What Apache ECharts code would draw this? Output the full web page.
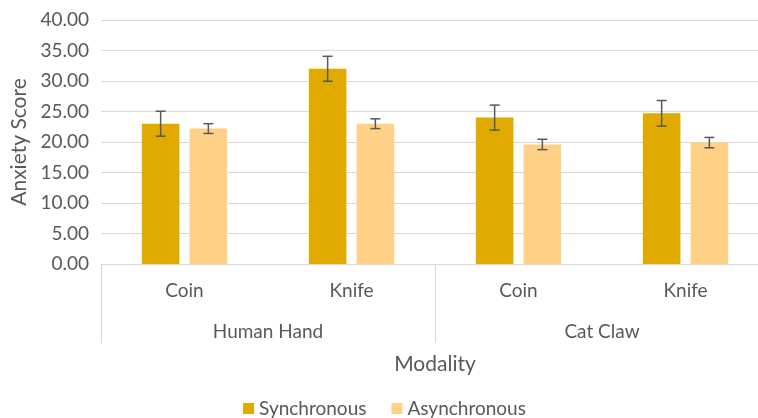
<!DOCTYPE html>
<html>
<head>
<meta charset="utf-8">
<script src="https://cdn.jsdelivr.net/npm/echarts@6/dist/echarts.min.js"></script>
<style>
  html, body { margin: 0; padding: 0; background: #fff; overflow: hidden; }
  /* the original plot runs past the right edge of the picture */
  #main { width: 769px; height: 418px; }
</style>
</head>
<body>
<div id="main"></div>
<script>
// data
var modalities = ['Coin', 'Knife', 'Coin', 'Knife'];
var groups = ['Human Hand', 'Cat Claw'];
var seriesNames = ['Synchronous', 'Asynchronous'];
var syncValues = [23.0, 32.0, 24.0, 24.7];
var syncErr = [2.05, 2.05, 2.05, 2.1];
var asyncValues = [22.2, 23.0, 19.6, 19.9];
var asyncErr = [0.8, 0.8, 0.85, 0.85];
var yTicks = [0, 5, 10, 15, 20, 25, 30, 35, 40];

var FONT = 'Lato';
var TEXT = '#595959';
var GRIDC = '#d9d9d9';
var BAR_W = 0.225;   // bar width as share of category band
var BAR_GAP = 0.27;  // gap between bars, as share of bar width

var myChart = echarts.init(document.getElementById('main'));

function errorSeries(name, values, errs, side) {
    var data = values.map(function (v, i) { return [i, v - errs[i], v + errs[i]]; });
    return {
        type: 'custom',
        name: name,
        xAxisIndex: 0,
        z: 10,
        silent: true,
        renderItem: function (params, api) {
            var band = api.size([1, 0])[0];
            var shift = side * band * BAR_W * (1 + BAR_GAP) / 2;
            var lo = api.coord([api.value(0), api.value(1)]);
            var hi = api.coord([api.value(0), api.value(2)]);
            var x = lo[0] + shift;
            var cap = 5;
            var style = { stroke: '#595959', lineWidth: 1.5 };
            return {
                type: 'group',
                children: [
                    { type: 'line', shape: { x1: x, y1: lo[1], x2: x, y2: hi[1] }, style: style },
                    { type: 'line', shape: { x1: x - cap, y1: lo[1], x2: x + cap, y2: lo[1] }, style: style },
                    { type: 'line', shape: { x1: x - cap, y1: hi[1], x2: x + cap, y2: hi[1] }, style: style }
                ]
            };
        },
        encode: { x: 0, y: [1, 2] },
        data: data
    };
}

var option = {
    animation: false,
    textStyle: { fontFamily: FONT, color: TEXT },
    grid: { left: 101, right: 0, top: 20, height: 244, containLabel: false },
    legend: {
        data: seriesNames,
        bottom: -5,
        left: 'center',
        itemWidth: 11,
        itemHeight: 11,
        itemGap: 25,
        icon: 'rect',
        textStyle: { fontFamily: FONT, fontSize: 19, color: TEXT }
    },
    xAxis: [
        {
            type: 'category',
            data: modalities,
            position: 'bottom',
            axisLine: { show: true, lineStyle: { color: GRIDC, width: 1 } },
            axisTick: { show: false },
            axisLabel: { fontFamily: FONT, fontSize: 19, color: TEXT, margin: 17 }
        },
        {
            type: 'category',
            data: groups,
            position: 'bottom',
            offset: 0,
            name: 'Modality',
            nameLocation: 'middle',
            nameGap: 90,
            nameTextStyle: { fontFamily: FONT, fontSize: 21, color: TEXT },
            axisLine: { show: false },
            axisTick: { show: true, length: 79, inside: false, lineStyle: { color: GRIDC, width: 1 } },
            axisLabel: { fontFamily: FONT, fontSize: 19, color: TEXT, margin: 58 }
        }
    ],
    yAxis: {
        type: 'value',
        min: yTicks[0],
        max: yTicks[yTicks.length - 1],
        interval: yTicks[1] - yTicks[0],
        name: 'Anxiety Score',
        nameLocation: 'middle',
        nameGap: 67,
        nameTextStyle: { fontFamily: FONT, fontSize: 21, color: TEXT },
        axisLine: { show: false },
        axisTick: { show: false },
        splitLine: { lineStyle: { color: GRIDC, width: 1 } },
        axisLabel: {
            fontFamily: FONT, fontSize: 19, color: TEXT, margin: 12,
            formatter: function (v) { return v.toFixed(2); }
        }
    },
    series: [
        {
            name: seriesNames[0],
            type: 'bar',
            xAxisIndex: 0,
            barWidth: (BAR_W * 100) + '%',
            barGap: (BAR_GAP * 100) + '%',
            itemStyle: { color: '#e0aa00' },
            data: syncValues
        },
        {
            name: seriesNames[1],
            type: 'bar',
            xAxisIndex: 0,
            barWidth: (BAR_W * 100) + '%',
            barGap: (BAR_GAP * 100) + '%',
            itemStyle: { color: '#fed186' },
            data: asyncValues
        },
        errorSeries('syncErr', syncValues, syncErr, -1),
        errorSeries('asyncErr', asyncValues, asyncErr, 1)
    ]
};

myChart.setOption(option);
</script>
</body>
</html>
